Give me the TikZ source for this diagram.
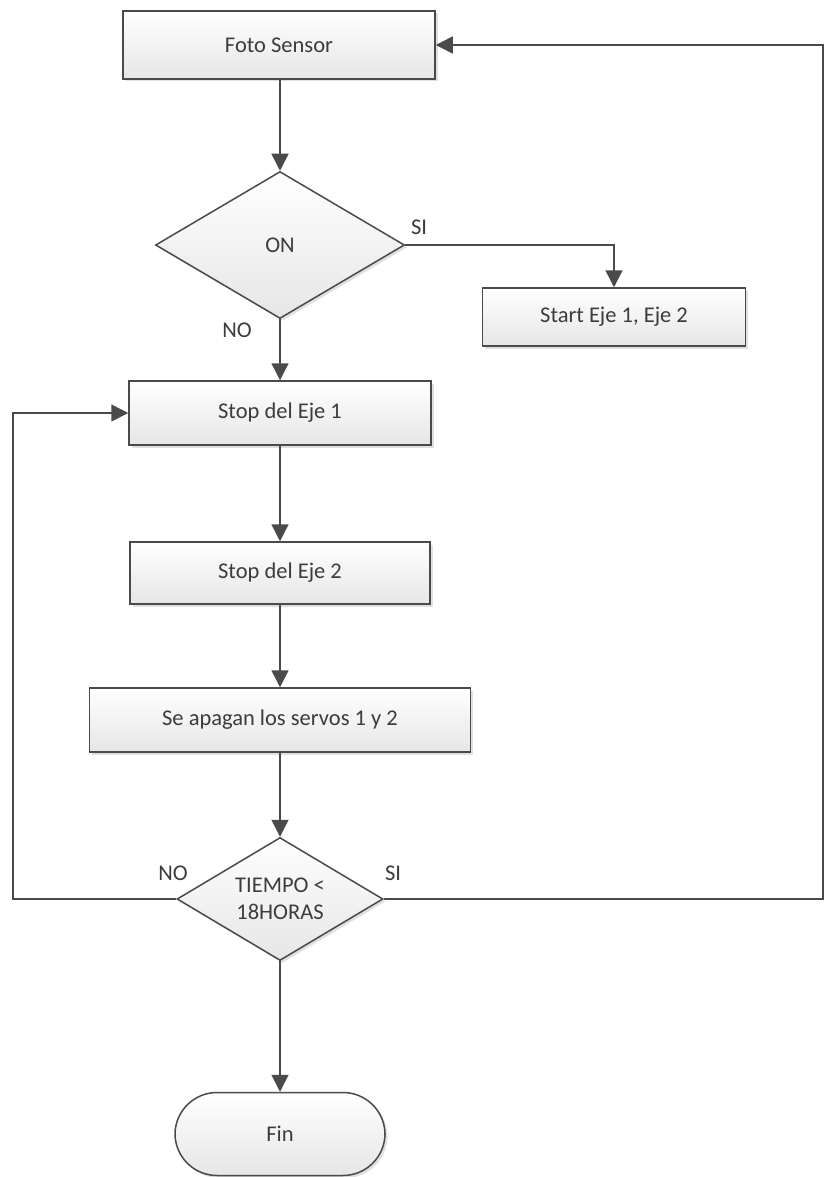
\documentclass[tikz,border=0pt]{standalone}
\usepackage{fontspec}
\setmainfont{Carlito}
\usetikzlibrary{shapes.geometric,arrows.meta,shadows}
\definecolor{edge}{HTML}{4A4A4A}
\definecolor{txt}{HTML}{3C3C3C}
\definecolor{fillbot}{HTML}{E6E6E6}
\tikzset{
  shapebase/.style={draw=edge, line width=1.5pt, top color=white, bottom color=fillbot,
    text=txt, font=\fontsize{22.5}{27}\selectfont, inner sep=0pt, align=center,
    drop shadow={shadow xshift=2.5pt, shadow yshift=-2.5pt, opacity=0.12, fill=black}},
  procbox/.style={shapebase, rectangle},
  decbox/.style={shapebase, diamond},
  termbox/.style={shapebase, rectangle, rounded corners=42pt},
  lbl/.style={text=txt, font=\fontsize{22.5}{27}\selectfont, inner sep=0pt},
  conn/.style={draw=edge, line width=1.5pt},
  arr/.style={conn, -{Triangle[width=17pt,length=17pt]}},
}
\begin{document}
\begin{tikzpicture}[x=1pt,y=-1pt]
\useasboundingbox (0,0) rectangle (824,1177);
\fill[white] (0,0) rectangle (824,1177);

\node[procbox, minimum width=312pt, minimum height=68pt] (foto) at (279,45) {Foto Sensor};
\node[decbox, aspect=1.69, minimum width=249pt, minimum height=147pt] (on) at (280,245) {ON};
\node[procbox, minimum width=263pt, minimum height=58pt] (start) at (614,317) {Start Eje 1, Eje 2};
\node[procbox, minimum width=302pt, minimum height=64pt] (stop1) at (280,413) {Stop del Eje 1};
\node[procbox, minimum width=300pt, minimum height=62pt] (stop2) at (280,573) {Stop del Eje 2};
\node[procbox, minimum width=381pt, minimum height=64pt] (servos) at (280,720) {Se apagan los servos 1 y 2};
\node[decbox, aspect=1.67, minimum width=206pt, minimum height=123pt] (tiempo) at (280,899) {TIEMPO <\\18HORAS};
\node[termbox, minimum width=210pt, minimum height=83pt] (fin) at (280,1134) {Fin};

\node[lbl] (si1) at (419,227) {SI};
\node[lbl] (no1) at (237,330) {NO};
\node[lbl] (no2) at (173,873) {NO};
\node[lbl] (si2) at (393,873) {SI};

\coordinate (lc) at (13,899);
\coordinate (rc) at (823,899);

\draw[arr] (foto.south -| on.north) -- (on.north);
\draw[arr] (on.east) -| (start.north);
\draw[arr] (on.south) -- (stop1.north);
\draw[arr] (stop1.south) -- (stop2.north);
\draw[arr] (stop2.south) -- (servos.north);
\draw[arr] (servos.south) -- (tiempo.north);
\draw[arr] (tiempo.west) -- (lc) |- (stop1.west);
\draw[arr] (tiempo.east) -- (rc) |- (foto.east);
\draw[arr] (tiempo.south) -- (fin.north);
\end{tikzpicture}
\end{document}
